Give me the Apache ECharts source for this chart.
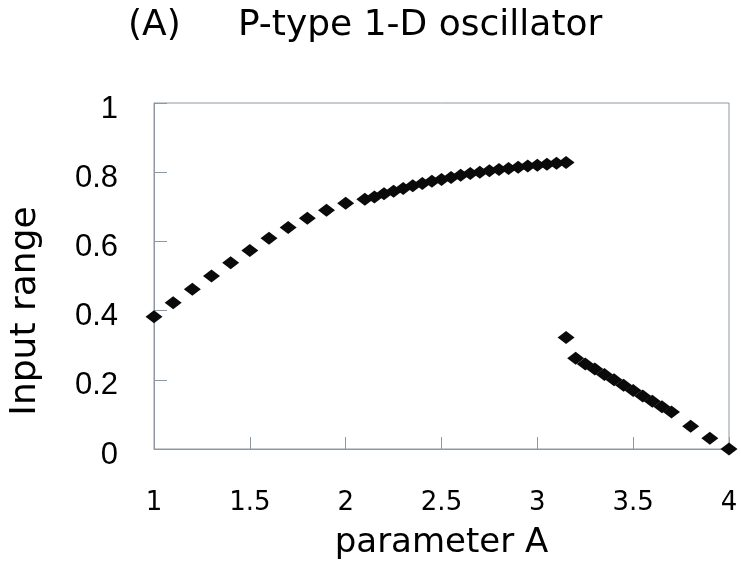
<!DOCTYPE html>
<html>
<head>
<meta charset="utf-8">
<script src="https://cdn.jsdelivr.net/npm/echarts@6/dist/echarts.min.js"></script>
<style>
html, body { margin: 0; padding: 0; background: #fff; }
#chart { width: 741px; height: 569px; }
</style>
</head>
<body>
<div id="chart"></div>
<script>
// upper branch (A = 1 .. 3.15)
var upperX = [1.0, 1.1, 1.2, 1.3, 1.4, 1.5, 1.6, 1.7, 1.8, 1.9, 2.0,
  2.10, 2.15, 2.20, 2.25, 2.30, 2.35, 2.40, 2.45, 2.50, 2.55, 2.60,
  2.65, 2.70, 2.75, 2.80, 2.85, 2.90, 2.95, 3.00, 3.05, 3.10, 3.15];
var upperY = [0.382, 0.423, 0.462, 0.500, 0.538, 0.574, 0.609, 0.640, 0.667, 0.690, 0.710,
  0.722, 0.728, 0.738, 0.745, 0.753, 0.761, 0.767, 0.774, 0.779, 0.785, 0.791,
  0.796, 0.800, 0.804, 0.808, 0.811, 0.814, 0.818, 0.820, 0.823, 0.826, 0.828];
// lower branch (A = 3.15 .. 4)
var lowerX = [3.15, 3.20, 3.25, 3.30, 3.35, 3.40, 3.45, 3.50, 3.55, 3.60, 3.65, 3.70, 3.80, 3.90, 4.00];
var lowerY = [0.322, 0.262, 0.246, 0.231, 0.215, 0.200, 0.184, 0.169, 0.153, 0.138, 0.122, 0.107, 0.066, 0.031, 0.0];

var xTicks = [1, 1.5, 2, 2.5, 3, 3.5, 4];
var yTicks = [0, 0.2, 0.4, 0.6, 0.8, 1];

function pairs(xs, ys) {
  return xs.map(function (x, i) { return [x, ys[i]]; });
}

var axisGray = '#8e98a3';
var chart = echarts.init(document.getElementById('chart'));

var option = {
  backgroundColor: '#fff',
  animation: false,
  title: {
    text: '(A)     P-type 1-D oscillator',
    left: 128,
    top: 8,
    padding: 0,
    textStyle: { fontFamily: 'DejaVu Sans', fontSize: 36, fontWeight: 'normal', color: '#000' }
  },
  grid: {
    left: 146, right: 12, top: 103, bottom: 120,
    show: true, borderColor: axisGray, borderWidth: 1
  },
  xAxis: {
    type: 'value',
    min: 1, max: 4, interval: 0.5,
    name: 'parameter A',
    nameLocation: 'middle',
    nameGap: 77,
    nameTextStyle: { fontFamily: 'DejaVu Sans', fontSize: 34, color: '#000' },
    axisLine: { lineStyle: { color: axisGray } },
    axisTick: { inside: true, length: 12, lineStyle: { color: axisGray } },
    splitLine: { show: false },
    axisLabel: {
      margin: 41, fontFamily: 'DejaVu Sans', fontSize: 26, color: '#000',
      formatter: function (v) { return xTicks.indexOf(v) >= 0 ? String(v) : ''; }
    }
  },
  yAxis: {
    type: 'value',
    min: 0, max: 1, interval: 0.2,
    name: 'Input range',
    nameLocation: 'middle',
    nameGap: 110,
    nameRotate: 90,
    nameTextStyle: { fontFamily: 'DejaVu Sans', fontSize: 36, color: '#000', padding: [0, 70, 0, 0] },
    axisLine: { show: true, lineStyle: { color: axisGray } },
    axisTick: { show: true, inside: true, length: 13, lineStyle: { color: axisGray } },
    splitLine: { show: false },
    axisLabel: {
      margin: 36, fontFamily: 'Liberation Sans', fontSize: 31, color: '#000',
      verticalAlign: 'top', lineHeight: 12,
      formatter: function (v) {
        var r = Math.round(v * 10) / 10;
        return yTicks.indexOf(r) >= 0 ? String(r) : '';
      }
    }
  },
  series: [
    {
      type: 'scatter',
      symbol: 'diamond',
      symbolSize: [17, 13],
      itemStyle: { color: '#0a0a0a', opacity: 1 },
      data: pairs(upperX, upperY)
    },
    {
      type: 'scatter',
      symbol: 'diamond',
      symbolSize: [17, 13],
      itemStyle: { color: '#0a0a0a', opacity: 1 },
      data: pairs(lowerX, lowerY)
    }
  ]
};

chart.setOption(option);
</script>
</body>
</html>
